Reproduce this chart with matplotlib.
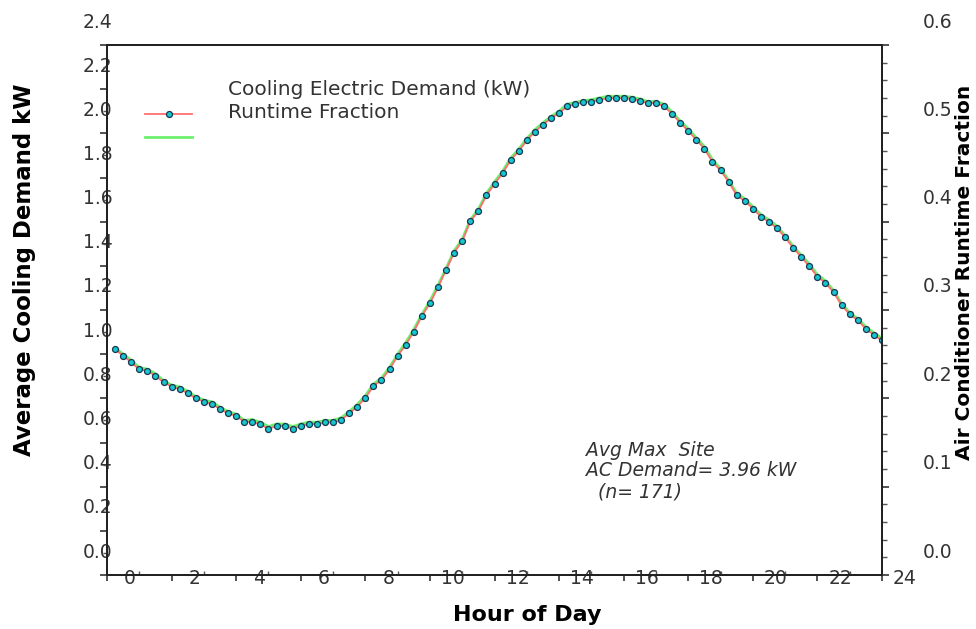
import numpy as np
import matplotlib
matplotlib.use("Agg")
import matplotlib.pyplot as plt
from matplotlib.transforms import ScaledTranslation
from matplotlib.ticker import MultipleLocator

# Average daily AC demand profile, 15 minute steps (hour 0.25 .. 24)
hours = np.arange(1, 97) * 0.25

demand_kw = [
    1.022, 0.993, 0.963, 0.931, 0.925, 0.902, 0.873, 0.853, 0.842, 0.823, 0.800, 0.785,
    0.774, 0.752, 0.732, 0.721, 0.693, 0.694, 0.682, 0.662, 0.675, 0.675, 0.662, 0.675,
    0.684, 0.684, 0.691, 0.691, 0.702, 0.732, 0.762, 0.802, 0.855, 0.883, 0.932, 0.992,
    1.042, 1.102, 1.173, 1.230, 1.303, 1.381, 1.460, 1.512, 1.601, 1.648, 1.719, 1.771,
    1.819, 1.879, 1.919, 1.968, 2.007, 2.040, 2.068, 2.092, 2.122, 2.133, 2.141, 2.143,
    2.151, 2.159, 2.159, 2.159, 2.157, 2.147, 2.137, 2.137, 2.122, 2.088, 2.048, 2.011,
    1.971, 1.930, 1.870, 1.832, 1.781, 1.719, 1.694, 1.659, 1.623, 1.599, 1.570, 1.529,
    1.481, 1.440, 1.398, 1.351, 1.322, 1.281, 1.221, 1.181, 1.153, 1.115, 1.087, 1.062,
]

runtime_frac = [
    0.257, 0.250, 0.243, 0.235, 0.233, 0.228, 0.220, 0.215, 0.213, 0.208, 0.202, 0.198,
    0.196, 0.190, 0.185, 0.182, 0.175, 0.176, 0.173, 0.168, 0.171, 0.171, 0.168, 0.171,
    0.173, 0.173, 0.175, 0.175, 0.178, 0.185, 0.193, 0.203, 0.216, 0.223, 0.235, 0.250,
    0.263, 0.278, 0.295, 0.310, 0.328, 0.347, 0.367, 0.380, 0.402, 0.414, 0.432, 0.445,
    0.457, 0.472, 0.482, 0.494, 0.504, 0.512, 0.519, 0.525, 0.533, 0.535, 0.537, 0.538,
    0.540, 0.542, 0.542, 0.542, 0.541, 0.539, 0.536, 0.536, 0.533, 0.524, 0.514, 0.505,
    0.495, 0.485, 0.470, 0.460, 0.447, 0.432, 0.426, 0.417, 0.408, 0.402, 0.395, 0.384,
    0.372, 0.362, 0.352, 0.340, 0.333, 0.322, 0.307, 0.297, 0.290, 0.281, 0.274, 0.268,
]

x_ticks = list(range(0, 25, 2))
left_ticks = [0.0, 0.2, 0.4, 0.6, 0.8, 1.0, 1.2, 1.4, 1.6, 1.8, 2.0, 2.2, 2.4]
right_ticks = [0.0, 0.1, 0.2, 0.3, 0.4, 0.5, 0.6]

note = "Avg Max  Site\nAC Demand= 3.96 kW\n  (n= 171)"

plt.rcParams['font.family'] = ['DejaVu Sans']
tick_col = '#333333'

fig = plt.figure(figsize=(9.76, 6.29), dpi=100)
ax = fig.add_axes([107 / 976, 1 - 575 / 629, 775 / 976, 530 / 629])
ax2 = ax.twinx()

# red/marker series must sit above the green one
ax.set_zorder(ax2.get_zorder() + 1)
ax.patch.set_visible(False)

ax2.plot(hours, runtime_frac, color='#6cf06c', lw=2.0, solid_joinstyle='round')
ln1, = ax.plot(hours, demand_kw, color='#ff6f6f', lw=1.3, marker='o', ms=4.3,
               mfc='#14c8cc', mec='#1d3550', mew=0.9)
ln2 = plt.Line2D([], [], color='#6cf06c', lw=2.0)

ax.set_xlim(0, 24)
ax.set_ylim(0, 2.4)
ax2.set_ylim(0, 0.6)

ax.set_xticks(x_ticks)
ax.set_xticklabels([str(h) for h in x_ticks])
ax.xaxis.set_minor_locator(MultipleLocator(1))
ax.set_yticks(left_ticks)
ax.set_yticklabels([f"{v:.1f}" for v in left_ticks])
ax.yaxis.set_minor_locator(MultipleLocator(0.1))
ax2.set_yticks(right_ticks)
ax2.set_yticklabels([f"{v:.1f}" for v in right_ticks])
ax2.yaxis.set_minor_locator(MultipleLocator(0.02))

for a in (ax, ax2):
    for s in a.spines.values():
        s.set_color('#222222')
        s.set_linewidth(1.4)

ax.tick_params(axis='x', which='major', direction='out', length=4.5, width=1.2,
               pad=2, labelsize=13.5, labelcolor=tick_col, colors='#333333')
ax.tick_params(axis='x', which='minor', direction='in', length=3, width=1.0, colors='#555555')
ax.tick_params(axis='y', which='major', direction='out', length=5, width=1.2,
               pad=2, labelsize=13.5, labelcolor=tick_col, colors='#333333')
ax.tick_params(axis='y', which='minor', direction='out', length=3, width=1.0, colors='#555555')
ax2.tick_params(axis='y', which='major', direction='out', length=5, width=1.2,
                pad=2, labelsize=13.5, labelcolor=tick_col, colors='#333333')
ax2.tick_params(axis='y', which='minor', direction='out', length=3.5, width=1.0, colors='#555555')


def shift(labels, dx, dy):
    # old plotting package drew its text displaced from the ticks
    for lab in labels:
        lab.set_transform(lab.get_transform() + ScaledTranslation(dx / 100, dy / 100, fig.dpi_scale_trans))


shift(ax.get_xticklabels(), 23, 15)
shift(ax.get_yticklabels(), 15, 25)
shift(ax2.get_yticklabels(), 31, 25)

ax.set_xlabel('Hour of Day', fontsize=16, fontweight='bold', va='center')
ax.xaxis.set_label_coords(420 / 775, (575 - 615) / 530)
ax.set_ylabel('Average Cooling Demand kW', fontsize=16.5, fontweight='bold', va='center')
ax.yaxis.set_label_coords((25 - 107) / 775, (575 - 270) / 530)
ax2.set_ylabel('Air Conditioner Runtime Fraction', fontsize=14.5, fontweight='bold',
               va='center', rotation=90)
ax2.yaxis.set_label_coords((964 - 107) / 775, (575 - 272) / 530)

leg = ax.legend([ln1, ln2], ['Cooling Electric Demand (kW)', 'Runtime Fraction'],
                loc='upper left', bbox_to_anchor=(38 / 775, (575 - 106) / 530),
                frameon=False, fontsize=14.5, handlelength=2.34, handletextpad=0.8,
                labelspacing=0.2, borderpad=0, borderaxespad=0)
for t in leg.get_texts():
    t.set_color('#333333')
shift(leg.get_texts(), 20, 26)

ax.text((586 - 107) / 775, (575 - 441) / 530, note, transform=ax.transAxes,
        ha='left', va='top', fontsize=13.5, style='italic', color='#333333', linespacing=1.1)

fig.savefig('out.png', dpi=100)
